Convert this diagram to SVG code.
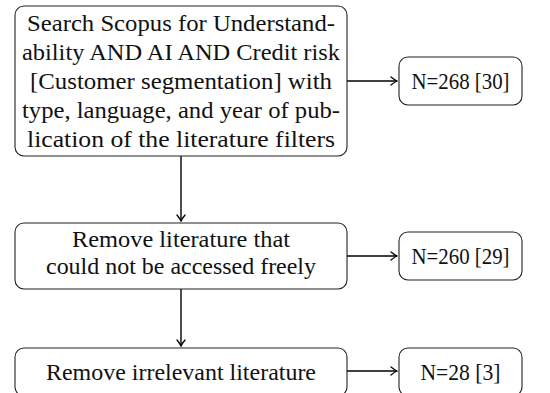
<svg xmlns="http://www.w3.org/2000/svg" width="550" height="393" viewBox="0 0 550 393">
<style>
.box{fill:#fff;stroke:#222;stroke-width:1.1}
.t{font-family:'Liberation Serif','Times New Roman',serif;font-size:23.5px;fill:#111;text-anchor:middle}
.c{fill:none;stroke:#000;stroke-width:1.4}
</style>
<defs>
<marker id="ah" viewBox="-6 -5 8 10" refX="1" refY="0" markerWidth="8" markerHeight="10" markerUnits="userSpaceOnUse" orient="auto">
<path d="M-5,-4 Q-1,-0.8 1,0 Q-1,0.8 -5,4" fill="none" stroke="#000" stroke-width="1.3" stroke-linecap="round"/>
</marker>
</defs>
<rect width="550" height="393" fill="#fff"/>
<g id="connectors">
<path class="c" d="M347,81 H397" marker-end="url(#ah)"/>
<path class="c" d="M181,156 V221" marker-end="url(#ah)"/>
<path class="c" d="M347,256 H397" marker-end="url(#ah)"/>
<path class="c" d="M181,289 V346" marker-end="url(#ah)"/>
<path class="c" d="M347,371 H397" marker-end="url(#ah)"/>
</g>
<g id="search">
<rect class="box" x="15" y="6" width="332" height="150" rx="9"/>
<text class="t" x="181" y="31" textLength="308" lengthAdjust="spacingAndGlyphs">Search Scopus for Understand-</text>
<text class="t" x="181" y="60" textLength="318" lengthAdjust="spacingAndGlyphs">ability AND AI AND Credit risk</text>
<text class="t" x="181" y="89" textLength="302" lengthAdjust="spacingAndGlyphs">[Customer segmentation] with</text>
<text class="t" x="181" y="118" textLength="318" lengthAdjust="spacingAndGlyphs">type, language, and year of pub-</text>
<text class="t" x="181" y="147" textLength="308" lengthAdjust="spacingAndGlyphs">lication of the literature filters</text>
</g>
<g id="n1">
<rect class="box" x="399" y="57" width="123" height="48" rx="9"/>
<text class="t" x="460.5" y="89" textLength="98" lengthAdjust="spacingAndGlyphs">N=268 [30]</text>
</g>
<g id="remove-access">
<rect class="box" x="15" y="223" width="332" height="66" rx="9"/>
<text class="t" x="181" y="247" textLength="218" lengthAdjust="spacingAndGlyphs">Remove literature that</text>
<text class="t" x="181" y="274" textLength="270" lengthAdjust="spacingAndGlyphs">could not be accessed freely</text>
</g>
<g id="n2">
<rect class="box" x="399" y="232" width="123" height="48" rx="9"/>
<text class="t" x="460.5" y="264" textLength="98" lengthAdjust="spacingAndGlyphs">N=260 [29]</text>
</g>
<g id="remove-irrelevant">
<rect class="box" x="15" y="348" width="332" height="48" rx="9"/>
<text class="t" x="181" y="380" textLength="270" lengthAdjust="spacingAndGlyphs">Remove irrelevant literature</text>
</g>
<g id="n3">
<rect class="box" x="399" y="348" width="123" height="48" rx="9"/>
<text class="t" x="460.5" y="380" textLength="80" lengthAdjust="spacingAndGlyphs">N=28 [3]</text>
</g>
</svg>
